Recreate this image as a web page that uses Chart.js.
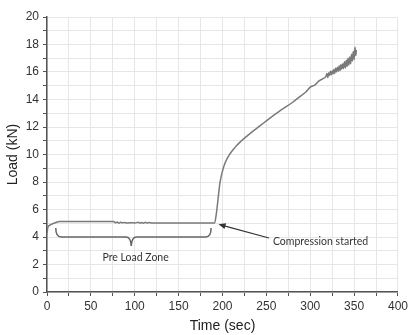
<!DOCTYPE html>
<html>
<head>
<meta charset="utf-8">
<script src="https://cdn.jsdelivr.net/npm/chart.js@4"></script>
<style>
  html, body { margin: 0; padding: 0; background: #fff; }
  #wrap { width: 411px; height: 335px; }
</style>
</head>
<body>
<div id="wrap"><canvas id="chart" width="411" height="335"></canvas></div>
<script>
// Load vs time readings
var timeSec = [0, 1, 3, 6, 10, 14, 20, 30, 40, 50, 60, 70, 76, 78, 80, 82, 84, 86, 88, 92, 96, 100, 104, 106, 108, 110, 112, 114, 116, 120, 130, 140, 150, 160, 170, 180, 188, 191,
   193, 195, 197, 200, 203, 208, 214, 220, 230, 240, 250, 265, 280, 290, 295, 300, 305, 310, 314, 318,
   319, 320, 321, 322, 323, 324, 325, 326, 327, 328, 329, 330, 331, 332, 333, 334, 335, 336, 337, 338, 339, 340,
   341, 342, 343, 344, 345, 346, 347, 348, 349, 350, 351, 352, 352.5];
var loadKN = [4.3, 4.7, 4.85, 4.95, 5.05, 5.12, 5.13, 5.13, 5.13, 5.13, 5.12, 5.12, 5.12, 5.04, 5.1, 5.0, 5.08, 5.03, 5.06, 5.02, 5.04, 5.02, 5.07, 5.01, 5.06, 5.0, 5.07, 5.01, 5.05, 5.02, 5.02, 5.02, 5.02, 5.02, 5.02, 5.02, 5.02, 5.02,
   5.7, 6.8, 7.9, 8.8, 9.4, 10.0, 10.5, 10.9, 11.45, 11.95, 12.45, 13.15, 13.8, 14.3, 14.55, 14.9, 15.05, 15.35, 15.5, 15.7,
   15.9, 15.6, 15.95, 15.75, 16.05, 15.8, 16.1, 15.85, 16.2, 15.9, 16.3, 16.0, 16.35, 16.05, 16.45, 16.1, 16.55, 16.2, 16.6, 16.25, 16.75, 16.3,
   16.85, 16.4, 17.0, 16.5, 17.1, 16.6, 17.3, 16.8, 17.5, 16.9, 17.8, 17.2, 17.6];

var xTicks = [0, 50, 100, 150, 200, 250, 300, 350, 400];
var yTicks = [0, 2, 4, 6, 8, 10, 12, 14, 16, 18, 20];

// annotation anchors, in data units
var braceLeft = 10, braceRight = 187, braceMid = 96, braceTop = 4.65, braceLine = 4.0, bracePoint = 3.35;
var zoneLabel = { text: 'Pre Load Zone', x: 101, y: 2.5 };
var arrowFrom = { x: 253, y: 3.93 };
var arrowTo = { x: 195.5, y: 4.92 };
var compLabel = { text: 'Compression started', x: 257.5, y: 3.68 };

var points = timeSec.map(function (t, i) { return { x: t, y: loadKN[i] }; });

var notes = {
   id: 'notes',
   afterDatasetsDraw: function (chart) {
      var ctx = chart.ctx;
      var xs = chart.scales.x, ys = chart.scales.y;
      var px = function (v) { return xs.getPixelForValue(v); };
      var py = function (v) { return ys.getPixelForValue(v); };
      ctx.save();
      // brace
      ctx.strokeStyle = '#666';
      ctx.lineWidth = 1.5;
      ctx.beginPath();
      ctx.moveTo(px(braceLeft), py(braceTop));
      ctx.quadraticCurveTo(px(braceLeft), py(braceLine), px(braceLeft + 6), py(braceLine));
      ctx.lineTo(px(braceMid - 6), py(braceLine));
      ctx.quadraticCurveTo(px(braceMid - 0.5), py(braceLine), px(braceMid), py(bracePoint));
      ctx.quadraticCurveTo(px(braceMid + 0.5), py(braceLine), px(braceMid + 6), py(braceLine));
      ctx.lineTo(px(braceRight - 6), py(braceLine));
      ctx.quadraticCurveTo(px(braceRight), py(braceLine), px(braceRight), py(braceTop));
      ctx.stroke();
      // arrow
      var x1 = px(arrowFrom.x), y1 = py(arrowFrom.y), x2 = px(arrowTo.x), y2 = py(arrowTo.y);
      var a = Math.atan2(y2 - y1, x2 - x1);
      ctx.strokeStyle = '#333';
      ctx.fillStyle = '#333';
      ctx.lineWidth = 1.2;
      ctx.beginPath();
      ctx.moveTo(x1, y1);
      ctx.lineTo(x2 - 4 * Math.cos(a), y2 - 4 * Math.sin(a));
      ctx.stroke();
      ctx.beginPath();
      ctx.moveTo(x2, y2);
      ctx.lineTo(x2 - 7 * Math.cos(a) + 3 * Math.sin(a), y2 - 7 * Math.sin(a) - 3 * Math.cos(a));
      ctx.lineTo(x2 - 7 * Math.cos(a) - 3 * Math.sin(a), y2 - 7 * Math.sin(a) + 3 * Math.cos(a));
      ctx.closePath();
      ctx.fill();
      // labels
      ctx.font = '10.5px Lato, "Liberation Sans", sans-serif';
      ctx.fillStyle = '#333';
      ctx.textBaseline = 'middle';
      ctx.textAlign = 'center';
      ctx.fillText(zoneLabel.text, px(zoneLabel.x), py(zoneLabel.y));
      ctx.textAlign = 'left';
      ctx.fillText(compLabel.text, px(compLabel.x), py(compLabel.y));
      ctx.restore();
   }
};

var axisFont = { family: '"Liberation Sans", Arial, sans-serif', size: 12 };
var titleFont = { family: '"Liberation Sans", Arial, sans-serif', size: 14 };

new Chart(document.getElementById('chart').getContext('2d'), {
   type: 'line',
   data: {
      datasets: [{
         data: points,
         borderColor: '#7a7a7a',
         borderWidth: 1.5,
         pointRadius: 0,
         cubicInterpolationMode: 'monotone',
         fill: false
      }]
   },
   options: {
      responsive: false,
      animation: false,
      events: [],
      layout: { padding: { top: 17, right: 9, left: 0, bottom: 0 } },
      plugins: { legend: { display: false }, tooltip: { enabled: false } },
      scales: {
         x: {
            type: 'linear',
            min: 0, max: 400,
            afterFit: function (s) { s.height = 43; },
            afterBuildTicks: function (s) {
               var t = [];
               for (var v = 0; v <= 400; v += 25) t.push({ value: v });
               s.ticks = t;
            },
            ticks: {
               autoSkip: false, maxRotation: 0, padding: 3, color: '#333', font: axisFont,
               callback: function (v) { return xTicks.indexOf(v) >= 0 ? v : ''; }
            },
            grid: { color: '#e6e6e6', tickLength: 4, tickColor: '#555', drawOnChartArea: true },
            border: { display: true, color: '#555', width: 1.5 },
            title: {
               display: true, text: 'Time (sec)', color: '#222', font: titleFont,
               padding: { top: 0, bottom: 0 }
            }
         },
         y: {
            min: 0, max: 20,
            afterFit: function (s) { s.width = 47; },
            afterBuildTicks: function (s) {
               var t = [];
               for (var v = 0; v <= 20; v += 1) t.push({ value: v });
               s.ticks = t;
            },
            ticks: {
               autoSkip: false, padding: 4, color: '#333', font: axisFont,
               callback: function (v) { return yTicks.indexOf(v) >= 0 ? v : ''; }
            },
            grid: { color: '#e6e6e6', tickLength: 4, tickColor: '#555' },
            border: { display: true, color: '#555', width: 1.5 },
            title: {
               display: true, text: 'Load (kN)', color: '#222', font: titleFont,
               padding: { top: 5, bottom: 0 }
            }
         }
      }
   },
   plugins: [notes]
});
</script>
</body>
</html>
